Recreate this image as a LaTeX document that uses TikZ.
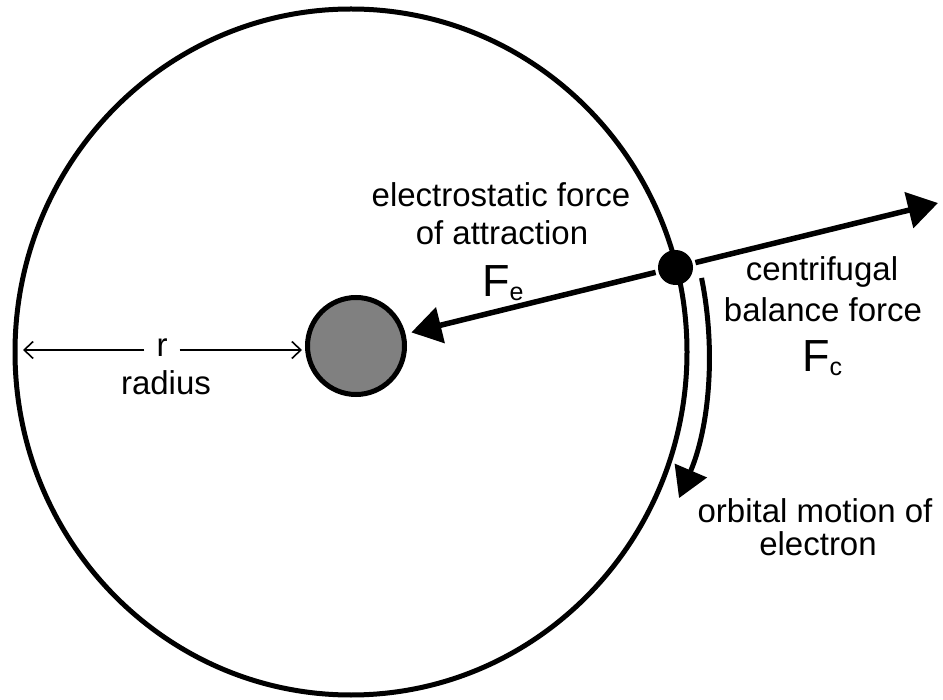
\documentclass[tikz,border=0pt]{standalone}
\usepackage{fontspec}
\setmainfont{Liberation Sans}
\usetikzlibrary{arrows.meta}
\definecolor{nucgray}{RGB}{128,128,128}
\begin{document}
\begin{tikzpicture}[x=1pt,y=1pt,
  lbl/.style={font=\fontsize{33}{38}\selectfont, inner sep=0pt, anchor=base},
  bigf/.style={inner sep=0pt, anchor=base west},
  orbitline/.style={line width=5pt},
  force/.style={line width=5.5pt, -{Triangle[length=30pt,width=36pt]}},
  motion/.style={line width=5pt, -{Triangle[length=30pt,width=34pt]}},
  radarrow/.style={line width=1.6pt, -{Straight Barb[length=9pt,width=17pt]}}
]
\useasboundingbox (0,0) rectangle (943,-700);

% orbit
\draw[orbitline] (351,-352) ellipse [x radius=336, y radius=343];

% nucleus and electron
\node[circle, draw, line width=5pt, fill=nucgray, minimum size=97pt, inner sep=0pt] (nuc) at (356,-346) {};
\node[circle, fill=black, minimum size=35pt, inner sep=0pt, outer sep=3pt] (el) at (675.5,-267.5) {};

% forces
\coordinate (fctip) at (938,-203);
\draw[force, shorten >=6pt] (el) -- (nuc);
\draw[force] (el) -- (fctip);

% orbital motion arrow
\draw[motion] (351,-352) ++(11.7:358 and 365) arc[start angle=11.7, end angle=-23.6, x radius=358, y radius=365];

% radius
\node[lbl] (r) at (162,-357) {r};
\node[lbl] (radius) at (166,-395) {radius};
\coordinate (radL) at (23,-350);
\coordinate (radR) at (302,-350);
\draw[radarrow] (r.west |- radL) ++(-12,0) -- (radL);
\draw[radarrow] (r.east |- radR) ++(12,0) -- (radR);

% labels
\node[lbl] (es1) at (501,-207) {electrostatic force};
\node[lbl] (es2) at (502,-245) {of attraction};
\node[bigf] (fe) at (482,-297) {\fontsize{45}{45}\selectfont F\raisebox{-4pt}{\fontsize{25}{25}\selectfont e}};

\node[lbl] (cf1) at (822,-281) {centrifugal};
\node[lbl] (cf2) at (823,-322) {balance force};
\node[bigf] (fc) at (802,-372) {\fontsize{45}{45}\selectfont F\raisebox{-4pt}{\fontsize{25}{25}\selectfont c}};

\node[lbl] (om1) at (815,-522) {orbital motion of};
\node[lbl] (om2) at (818,-555) {electron};
\end{tikzpicture}
\end{document}
